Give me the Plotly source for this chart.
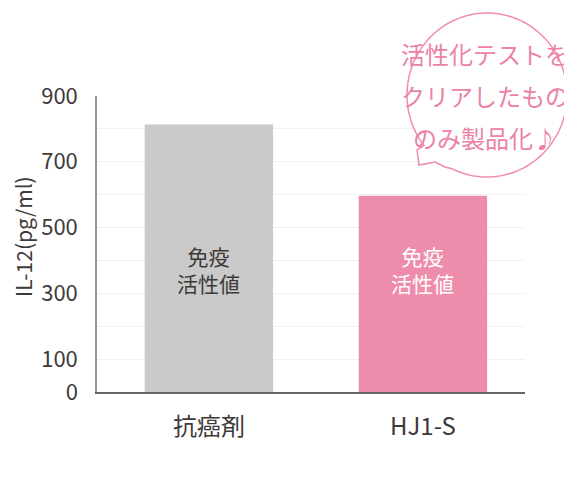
import numpy as np
import plotly.graph_objects as go

categories = ["抗癌剤", "HJ1-S"]
values = [813, 597]
bar_colors = ["#c9cac9", "#ee8dab"]
inner_text = ["免疫<br>活性値", "免疫<br>活性値"]
inner_text_colors = ["#3e3a39", "#ffffff"]
inner_text_y = [374, 374]
tick_values = [0, 100, 200, 300, 400, 500, 600, 700, 800, 900]
tick_labels = ["0", "100", "", "300", "", "500", "", "700", "", "900"]
y_title = "IL-12(pg/ml)"
bubble_lines = ["活性化テストを", "クリアしたもの", "のみ製品化♪"]

OFF = 8  # page body offset
W, H = 572 - OFF, 502 - OFF
L, R, T, B = 97 - OFF, 47, 96 - OFF, 110
PW, PH = W - L - R, H - T - B

def px(x):
    return (x - OFF - L) / PW

def py(y):
    return (H - B - (y - OFF)) / PH

FONT = "Noto Sans CJK JP, Noto Sans, sans-serif"
TXT = "#3e3a39"
PINK = "#ec82a8"

fig = go.Figure()
fig.add_trace(go.Bar(
    x=categories, y=values, width=0.6,
    marker=dict(color=bar_colors, line=dict(width=0)),
    hoverinfo="skip",
))

for c, t, col, yy in zip(categories, inner_text, inner_text_colors, inner_text_y):
    fig.add_annotation(x=c, y=yy, xref="x", yref="y", text=t, showarrow=False,
                       xanchor="center", yanchor="middle",
                       font=dict(family=FONT, size=21, color=col))

# speech bubble outline
cx, cy, rx, ry = 487, 95, 80, 82
ang = np.radians(np.linspace(142, 476, 160))
pts = [(cx + rx * np.cos(a), cy + ry * np.sin(a)) for a in ang]
tail = [(445, 167), (435, 162), (419, 165), (417, 150)]
pts = pts + tail
path = "M " + " L ".join(f"{px(x):.4f},{py(y):.4f}" for x, y in pts) + " Z"
fig.add_shape(type="path", xref="paper", yref="paper", path=path,
              line=dict(color="#f08cb0", width=1.5), fillcolor="rgba(255,255,255,0.9)", layer="above")

for i, line in enumerate(bubble_lines):
    fig.add_annotation(x=px(485), y=py(53 + 42 * i), xref="paper", yref="paper",
                       text=line, showarrow=False, xanchor="center", yanchor="middle",
                       font=dict(family=FONT, size=24, color=PINK))

fig.add_annotation(x=px(23), y=py(237), xref="paper", yref="paper", text=y_title,
                   textangle=-90, showarrow=False, xanchor="center", yanchor="middle",
                   font=dict(family=FONT, size=21, color=TXT))

fig.update_layout(
    width=W, height=H, margin=dict(l=L, r=R, t=T, b=B),
    paper_bgcolor="white", plot_bgcolor="white", showlegend=False,
    font=dict(family=FONT, color=TXT),
)
fig.update_xaxes(range=[-0.523, 1.477], showline=True, linecolor="#6b6464", linewidth=1.5,
                 showgrid=False, ticks="", tickfont=dict(family=FONT, size=24, color=TXT),
                 ticklabelstandoff=12, fixedrange=True)
fig.update_yaxes(range=[0, 900], tickvals=tick_values, ticktext=tick_labels,
                 showline=True, linecolor="#9a9393", linewidth=1.5,
                 showgrid=True, gridcolor="#f1f1f1", gridwidth=1, zeroline=False,
                 ticks="", tickfont=dict(family=FONT, size=22, color=TXT),
                 ticklabelstandoff=13, fixedrange=True)

fig.write_html("out.html", config={"displayModeBar": False})
